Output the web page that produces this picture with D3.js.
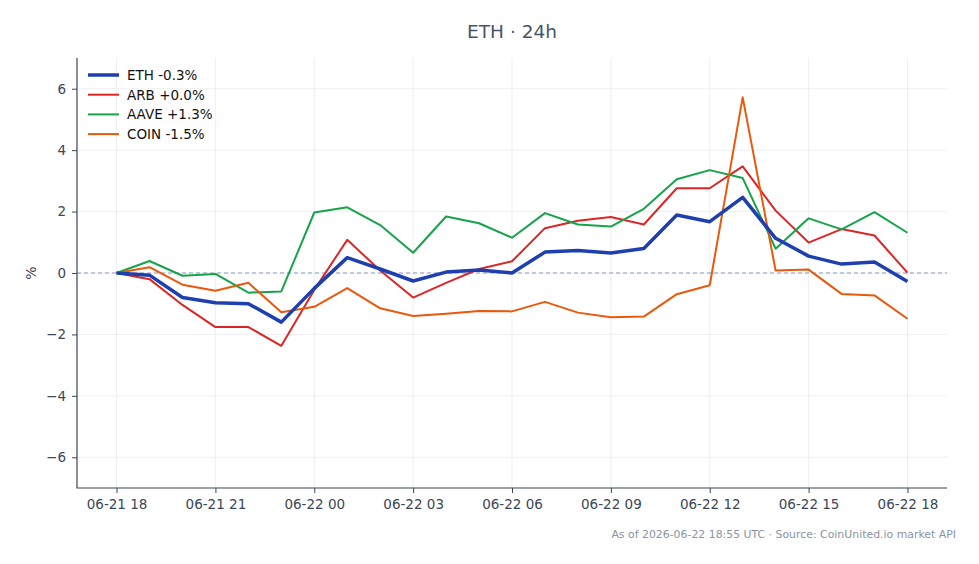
<!DOCTYPE html>
<html>
<head>
<meta charset="utf-8">
<script src="https://cdn.jsdelivr.net/npm/d3@7"></script>
<style>
  body { margin: 0; background: #fff; }
  svg text { font-family: "DejaVu Sans", sans-serif; }
</style>
</head>
<body>
<div id="chart"></div>
<script>
var width = 979;
var height = 564;

// hourly points, 06-21 18:00 UTC .. 06-22 18:00 UTC
var startTime = Date.UTC(2026, 5, 21, 18);
var hours = d3.range(25).map(function(i) { return new Date(startTime + i * 3600000); });

var ethValues  = [0, -0.07, -0.8, -0.97, -1.0, -1.6, -0.5, 0.5, 0.13, -0.26, 0.03, 0.1, 0, 0.68, 0.73, 0.65, 0.8, 1.89, 1.67, 2.46, 1.13, 0.55, 0.29, 0.36, -0.28];
var arbValues  = [0, -0.2, -1.04, -1.76, -1.76, -2.37, -0.55, 1.08, 0.08, -0.8, -0.32, 0.13, 0.38, 1.46, 1.7, 1.82, 1.58, 2.76, 2.76, 3.47, 2.03, 0.99, 1.43, 1.22, 0.01];
var aaveValues = [0, 0.39, -0.09, -0.03, -0.64, -0.6, 1.97, 2.14, 1.56, 0.66, 1.84, 1.62, 1.15, 1.95, 1.58, 1.51, 2.09, 3.05, 3.35, 3.09, 0.79, 1.78, 1.42, 1.98, 1.31];
var coinValues = [0, 0.19, -0.38, -0.58, -0.32, -1.28, -1.1, -0.49, -1.15, -1.4, -1.33, -1.24, -1.25, -0.94, -1.29, -1.44, -1.42, -0.69, -0.4, 5.72, 0.08, 0.11, -0.68, -0.73, -1.49];

var seriesNames = ["ETH -0.3%", "ARB +0.0%", "AAVE +1.3%", "COIN -1.5%"];
var seriesColors = ["#1e40af", "#dc2626", "#16a34a", "#ea580c"];
var seriesWidths = [3.5, 2, 2, 2];
var allValues = [ethValues, arbValues, aaveValues, coinValues];

var yTicks = [-6, -4, -2, 0, 2, 4, 6];

var margin = {left: 77, right: 32, top: 58, bottom: 76};

var svg = d3.select("#chart").append("svg")
    .attr("width", width)
    .attr("height", height);

var pad = 1.2 * 3600000;
var xScale = d3.scaleUtc()
    .domain([new Date(startTime - pad), new Date(startTime + 24 * 3600000 + pad)])
    .range([margin.left, width - margin.right]);
var yScale = d3.scaleLinear().domain([-7, 7]).range([height - margin.bottom, margin.top]);

var xTickVals = d3.range(0, 25, 3).map(function(i) { return hours[i]; });

// grid
svg.append("g").selectAll("line").data(xTickVals).enter().append("line")
    .attr("x1", function(d) { return xScale(d); })
    .attr("x2", function(d) { return xScale(d); })
    .attr("y1", margin.top).attr("y2", height - margin.bottom)
    .attr("stroke", "#e8ebf0").attr("stroke-width", 0.8);
svg.append("g").selectAll("line").data(yTicks).enter().append("line")
    .attr("x1", margin.left).attr("x2", width - margin.right)
    .attr("y1", function(d) { return yScale(d); })
    .attr("y2", function(d) { return yScale(d); })
    .attr("stroke", "#e8ebf0").attr("stroke-width", 0.8);

// zero line
svg.append("line")
    .attr("x1", margin.left).attr("x2", width - margin.right)
    .attr("y1", yScale(0)).attr("y2", yScale(0))
    .attr("stroke", "#8a9bbd").attr("stroke-width", 1)
    .attr("stroke-dasharray", "4,3");

// lines (ETH drawn last so it sits on top)
var line = d3.line()
    .x(function(d, i) { return xScale(hours[i]); })
    .y(function(d) { return yScale(d); });

[1, 2, 3, 0].forEach(function(k) {
    svg.append("path")
        .datum(allValues[k])
        .attr("fill", "none")
        .attr("stroke", seriesColors[k])
        .attr("stroke-width", seriesWidths[k])
        .attr("stroke-linejoin", "round")
        .attr("d", line);
});

// axes
var xAxis = d3.axisBottom(xScale).tickValues(xTickVals)
    .tickFormat(d3.utcFormat("%m-%d %H")).tickSizeOuter(0).tickSize(5).tickPadding(6);
var yAxis = d3.axisLeft(yScale).tickValues(yTicks)
    .tickFormat(function(d) { return d < 0 ? "\u2212" + Math.abs(d) : d; })
    .tickSizeOuter(0).tickSize(5).tickPadding(6);

var gx = svg.append("g")
    .attr("transform", "translate(0," + (height - margin.bottom) + ")")
    .call(xAxis);
var gy = svg.append("g")
    .attr("transform", "translate(" + margin.left + ",0)")
    .call(yAxis);
[gx, gy].forEach(function(g) {
    g.select(".domain").remove();
    g.selectAll(".tick line").attr("stroke", "#3b4656");
    g.selectAll(".tick text").attr("fill", "#3b4656").style("font-size", "13.5px");
});

// left and bottom spines
svg.append("path")
    .attr("d", "M" + margin.left + "," + margin.top + "V" + (height - margin.bottom) + "H" + (width - margin.right))
    .attr("fill", "none")
    .attr("stroke", "#3b4656")
    .attr("stroke-width", 1.2)
    .attr("stroke-linecap", "butt")
    .attr("stroke-linejoin", "miter");

// y label
svg.append("text")
    .attr("transform", "translate(36," + yScale(0) + ") rotate(-90)")
    .attr("text-anchor", "middle")
    .attr("fill", "#3b4656")
    .style("font-size", "14px")
    .text("%");

// title
svg.append("text")
    .attr("x", (margin.left + width - margin.right) / 2)
    .attr("y", 38)
    .attr("text-anchor", "middle")
    .attr("fill", "#475569")
    .style("font-size", "18.5px")
    .text("ETH \u00b7 24h");

// legend
var legend = svg.append("g").attr("transform", "translate(88,75)");
seriesNames.forEach(function(name, i) {
    var row = legend.append("g").attr("transform", "translate(0," + (i * 19.7) + ")");
    row.append("line")
        .attr("x1", 0).attr("x2", 31)
        .attr("stroke", seriesColors[i])
        .attr("stroke-width", seriesWidths[i]);
    row.append("text")
        .attr("x", 39).attr("y", 4.8)
        .attr("fill", "#111")
        .style("font-size", "13.5px")
        .text(name);
});

// footer
svg.append("text")
    .attr("x", 956)
    .attr("y", 538)
    .attr("text-anchor", "end")
    .attr("fill", "#8a94a3")
    .style("font-size", "10.9px")
    .text("As of 2026-06-22 18:55 UTC \u00b7 Source: CoinUnited.io market API");
</script>
</body>
</html>
